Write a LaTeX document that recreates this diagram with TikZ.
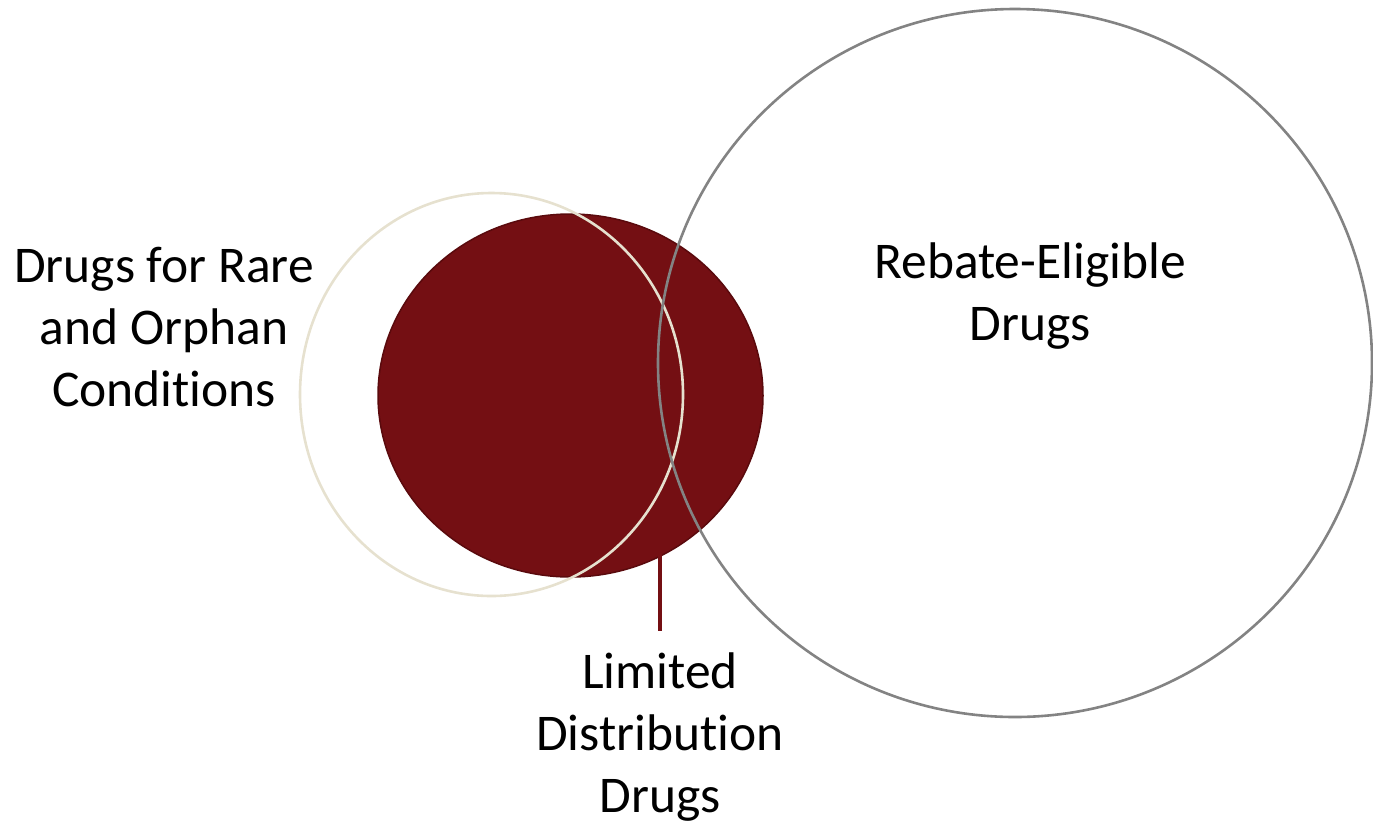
\documentclass[tikz,border=0pt]{standalone}
\usepackage{fontspec}
\setmainfont{Carlito}[RawFeature={-liga;-dlig;-clig}]
\definecolor{ldred}{HTML}{740F13}
\definecolor{ldedge}{HTML}{5A0A0D}
\definecolor{rarec}{HTML}{E6E1CF}
\definecolor{rebc}{HTML}{838383}
\tikzset{
  lbl/.style={align=center, font=\fontsize{51.5}{62}\selectfont, text=black, inner sep=0pt},
  setred/.style={ellipse, fill=ldred, draw=ldedge, line width=1.5pt, inner sep=0pt},
  setrare/.style={ellipse, draw=rarec, line width=2.6pt, inner sep=0pt},
  setreb/.style={ellipse, draw=rebc, line width=2.6pt, inner sep=0pt}
}
\usetikzlibrary{shapes.geometric}
\begin{document}
\begin{tikzpicture}[x=1pt,y=-1pt]
\useasboundingbox (0,0) rectangle (1373,823);
\node[setred, minimum width=385pt, minimum height=363pt] (ld) at (570.5,395.5) {};
\node[setrare, minimum width=383pt, minimum height=403pt] (rare) at (491.5,394.5) {};
\node[setreb, minimum width=714pt, minimum height=708pt] (reb) at (1015,363) {};
\coordinate (lineend) at (660,631);
\coordinate (linestart) at (660,551);
\draw[ldred, line width=4pt] (linestart) -- (lineend);
\node[lbl] (ltxt) at (164,327) {Drugs for Rare\\and Orphan\\Conditions};
\node[lbl] (rtxt) at (1030,296) {Rebate-Eligible\\Drugs};
\node[lbl] (btxt) at (660,737) {Limited\\Distribution\\Drugs};
\end{tikzpicture}
\end{document}
